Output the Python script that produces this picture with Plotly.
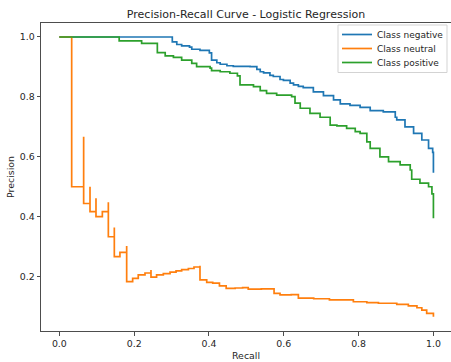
import plotly.graph_objects as go

# ---- data (recall, precision), increasing recall ----
neg_recall = [0.0, 0.302, 0.314, 0.327, 0.348, 0.354, 0.376, 0.401, 0.407, 0.421, 0.430, 0.448,
              0.465, 0.510, 0.528, 0.537, 0.546, 0.563, 0.572, 0.590, 0.599, 0.617, 0.626, 0.639,
              0.652, 0.679, 0.706, 0.733, 0.751, 0.777, 0.804, 0.831, 0.866, 0.898, 0.902, 0.924,
              0.947, 0.969, 0.987, 0.998, 1.0, 1.0]
neg_precision = [1.0, 0.984, 0.975, 0.970, 0.966, 0.959, 0.955, 0.947, 0.923, 0.914, 0.909, 0.904,
                 0.902, 0.901, 0.892, 0.884, 0.880, 0.872, 0.868, 0.858, 0.855, 0.846, 0.840, 0.835,
                 0.831, 0.817, 0.804, 0.790, 0.777, 0.772, 0.765, 0.754, 0.750, 0.732, 0.723, 0.700,
                 0.678, 0.656, 0.628, 0.615, 0.600, 0.547]

neu_recall = [0.0, 0.033, 0.065, 0.065, 0.082, 0.082, 0.098, 0.098, 0.115, 0.131, 0.131, 0.147,
              0.147, 0.162, 0.180, 0.180, 0.196, 0.211, 0.229, 0.245, 0.245, 0.260, 0.278, 0.296,
              0.312, 0.327, 0.345, 0.360, 0.376, 0.376, 0.394, 0.410, 0.428, 0.446, 0.470, 0.490,
              0.505, 0.505, 0.540, 0.574, 0.590, 0.620, 0.639, 0.680, 0.722, 0.786, 0.822, 0.853,
              0.902, 0.933, 0.956, 0.969, 0.982, 1.0]
neu_precision = [1.0, 0.500, 0.667, 0.444, 0.500, 0.417, 0.462, 0.400, 0.417, 0.448, 0.333, 0.364,
                 0.267, 0.281, 0.302, 0.183, 0.194, 0.206, 0.212, 0.222, 0.198, 0.206, 0.210, 0.215,
                 0.219, 0.223, 0.227, 0.232, 0.236, 0.189, 0.181, 0.178, 0.169, 0.161, 0.162, 0.163,
                 0.166, 0.158, 0.159, 0.144, 0.139, 0.140, 0.128, 0.126, 0.122, 0.116, 0.113, 0.111,
                 0.107, 0.102, 0.096, 0.088, 0.077, 0.066]

pos_recall = [0.0, 0.160, 0.220, 0.262, 0.283, 0.305, 0.327, 0.354, 0.367, 0.403, 0.407, 0.430,
              0.456, 0.476, 0.483, 0.519, 0.537, 0.554, 0.581, 0.621, 0.630, 0.644, 0.670, 0.697,
              0.724, 0.742, 0.768, 0.791, 0.804, 0.822, 0.831, 0.857, 0.880, 0.911, 0.938, 0.942,
              0.964, 0.987, 0.996, 1.0, 1.0]
pos_precision = [1.0, 0.987, 0.979, 0.948, 0.937, 0.932, 0.923, 0.912, 0.901, 0.896, 0.888, 0.884,
                 0.879, 0.870, 0.840, 0.834, 0.821, 0.812, 0.806, 0.801, 0.779, 0.762, 0.745, 0.732,
                 0.706, 0.703, 0.695, 0.684, 0.678, 0.650, 0.628, 0.600, 0.584, 0.573, 0.556, 0.525,
                 0.512, 0.500, 0.476, 0.470, 0.395]

class_names = ["negative", "neutral", "positive"]
colors = ["#1f77b4", "#ff7f0e", "#2ca02c"]
series = [(neg_recall, neg_precision), (neu_recall, neu_precision), (pos_recall, pos_precision)]

x_ticks = [0.0, 0.2, 0.4, 0.6, 0.8, 1.0]
y_ticks = [0.2, 0.4, 0.6, 0.8, 1.0]

FONT = "DejaVu Sans"
TXT = "#262626"

# plot-area geometry (pixels)
W, H = 451, 362
ML, MR, MT, MB = 41, 0, 23, 31
PW, PH = W - ML - MR, H - MT - MB


def px_x(px):
    return (px - ML) / PW


def px_y(py):
    return 1 - (py - MT) / PH


legend_names = ["legend", "legend2", "legend3"]
legend_tops = [20, 34, 48]

fig = go.Figure()
for name, col, (r, p), lg in zip(class_names, colors, series, legend_names):
    fig.add_trace(go.Scatter(x=r, y=p, mode="lines", name=f"Class {name}", legend=lg,
                             line=dict(color=col, width=1.7, shape="hv")))

legend_common = dict(xanchor="left", yanchor="top", bgcolor="rgba(0,0,0,0)", borderwidth=0,
                     font=dict(family=FONT, size=9, color=TXT), itemwidth=30)
layout_legends = {}
for lg, top in zip(legend_names, legend_tops):
    layout_legends[lg] = dict(x=px_x(337), y=px_y(top), **legend_common)

fig.update_layout(
    width=W, height=H,
    margin=dict(l=ML, r=MR, t=MT, b=MB),
    paper_bgcolor="white", plot_bgcolor="white",
    font=dict(family=FONT, size=9.4, color=TXT),
    title=dict(text="Precision-Recall Curve - Logistic Regression",
               x=0.5, xref="paper", y=1 - 14 / H, yref="container",
               xanchor="center", yanchor="middle",
               font=dict(family=FONT, size=11, color=TXT)),
    showlegend=True,
    shapes=[dict(type="rect", xref="paper", yref="paper",
                 x0=px_x(338), x1=px_x(447), y0=px_y(72.5), y1=px_y(25),
                 line=dict(color="#d3d3d3", width=1), fillcolor="rgba(255,255,255,0.8)",
                 layer="above")],
    **layout_legends,
)
fig.update_xaxes(range=[-0.049, 1.047], tickvals=x_ticks, ticktext=[f"{v:.1f}" for v in x_ticks],
                 showgrid=False, zeroline=False, showline=True, linecolor="#4d4d4d", linewidth=1,
                 mirror=True, ticks="outside", ticklen=3.5, tickcolor="#4d4d4d", tickwidth=1,
                 title=dict(text="Recall", standoff=4, font=dict(family=FONT, size=9.4, color=TXT)))
fig.update_yaxes(range=[0.0184, 1.0467], tickvals=y_ticks, ticktext=[f"{v:.1f}" for v in y_ticks],
                 showgrid=False, zeroline=False, showline=True, linecolor="#4d4d4d", linewidth=1,
                 mirror=False, ticks="outside", ticklen=3.5, tickcolor="#4d4d4d", tickwidth=1,
                 title=dict(text="Precision", standoff=3, font=dict(family=FONT, size=9.4, color=TXT)))

fig.write_html("out.html", config={"displayModeBar": False},
               post_script="document.body.style.margin='0px';")
